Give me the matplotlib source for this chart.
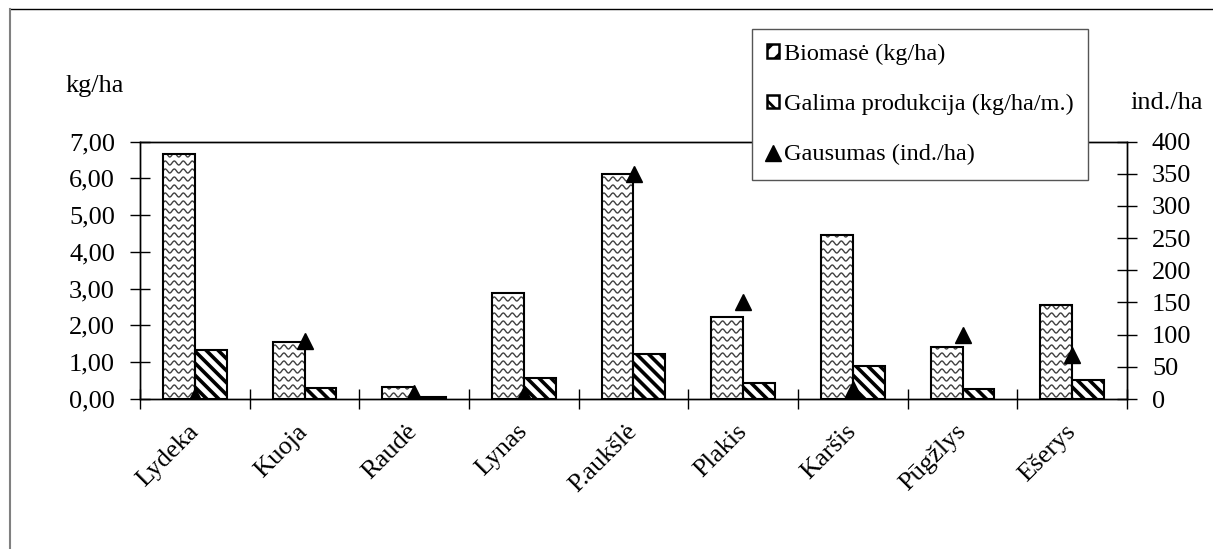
import numpy as np
import matplotlib
matplotlib.use('Agg')
import matplotlib.pyplot as plt
from matplotlib.lines import Line2D
from matplotlib.patches import Patch
from matplotlib.ticker import FuncFormatter, MultipleLocator

plt.rcParams['font.family'] = ['Liberation Serif', 'DejaVu Serif']
plt.rcParams['hatch.linewidth'] = 2.0

species = ['Lydeka', 'Kuoja', 'Raudė', 'Lynas', 'P.aukšlė',
           'Plakis', 'Karšis', 'Pūgžlys', 'Ešerys']
biomass = [6.65, 1.55, 0.32, 2.87, 6.11, 2.23, 4.47, 1.41, 2.55]
production = [1.33, 0.31, 0.05, 0.58, 1.22, 0.44, 0.90, 0.28, 0.52]
abundance = [5, 90, 10, 8, 350, 150, 15, 100, 68]

W, H = 1213, 549
FS = 19
fig = plt.figure(figsize=(W / 100, H / 100), dpi=100)
ax = fig.add_axes([140 / W, 1 - 399 / H, (1127 - 140) / W, (399 - 141.5) / H])

x = np.arange(len(species))
bw = 0.29
bio_bars = ax.bar(x - bw / 2, biomass, bw, color='white', edgecolor='none', zorder=2)
prod_bars = ax.bar(x + bw / 2, production, bw, color='white', edgecolor='none', zorder=2)

ax.set_xlim(-0.5, len(species) - 0.5)
ax.set_ylim(0, 7)

# pattern fills, spacing in pixels
px_x = ax.bbox.width / len(species)
px_y = ax.bbox.height / 7

# wavy lines for biomass
step = 8 / px_y
amp = 2 / px_y
period = 9 / px_x
for bar in bio_bars:
    x0, bwid, h = bar.get_x(), bar.get_width(), bar.get_height()
    xs = np.linspace(x0, x0 + bwid, 80)
    xx, yy = [], []
    for y0 in np.arange(step / 2, h + step, step):
        xx.extend(list(xs) + [np.nan])
        yy.extend(list(y0 + amp * np.sin(2 * np.pi * (xs - x0) / period)) + [np.nan])
    ln, = ax.plot(xx, yy, color='#404040', lw=1.0, zorder=2.5)
    ln.set_clip_path(bar)

# thick diagonal stripes for production
for bar in prod_bars:
    x0, bwid, h = bar.get_x(), bar.get_width(), bar.get_height()
    wpx, hpx = bwid * px_x, h * px_y
    xx, yy = [], []
    for c in np.arange(0, wpx + hpx + 12, 12):
        xp = np.array([-5, wpx + 5])
        yp = c - xp
        xx.extend(list(x0 + xp / px_x) + [np.nan])
        yy.extend(list(yp / px_y) + [np.nan])
    ln, = ax.plot(xx, yy, color='black', lw=2.6, zorder=2.5, solid_capstyle='butt')
    ln.set_clip_path(bar)

# outlines on top
ax.bar(x - bw / 2, biomass, bw, fill=False, edgecolor='black', linewidth=1.5, zorder=3)
ax.bar(x + bw / 2, production, bw, fill=False, edgecolor='black', linewidth=1.5, zorder=3)

ax.yaxis.set_major_locator(MultipleLocator(1))
ax.yaxis.set_major_formatter(FuncFormatter(lambda v, p: f'{v:.2f}'.replace('.', ',')))
ax.tick_params(axis='y', direction='inout', length=14, width=1, labelsize=FS, pad=11)

ax.set_xticks(x, species)
ax.set_xticks(np.arange(-0.5, len(species)), minor=True)
ax.tick_params(axis='x', which='major', length=0, labelsize=FS, pad=21)
ax.tick_params(axis='x', which='minor', direction='inout', length=14, width=1)
for lbl in ax.get_xticklabels():
    lbl.set_rotation(45)
    lbl.set_ha('right')
    lbl.set_va('center')
    lbl.set_rotation_mode('anchor')

for s in ax.spines.values():
    s.set_linewidth(1)

ax2 = ax.twinx()
ax2.plot(x, abundance, linestyle='none', marker='^', color='black',
         markersize=11, zorder=4)
ax2.set_ylim(0, 400)
ax2.yaxis.set_major_locator(MultipleLocator(50))
ax2.tick_params(axis='y', direction='inout', length=14, width=1, labelsize=FS, pad=11)
for s in ax2.spines.values():
    s.set_linewidth(1)

fig.text(66 / W, 1 - 86 / H, 'kg/ha', fontsize=FS, ha='left', va='center')
fig.text(1130 / W, 1 - 103 / H, 'ind./ha', fontsize=FS, ha='left', va='center')

handles = [
    Patch(facecolor='white', edgecolor='black', hatch='//', linewidth=1.8),
    Patch(facecolor='white', edgecolor='black', hatch='\\\\', linewidth=1.8),
    Line2D([], [], linestyle='none', marker='^', color='black', markersize=11),
]
labels = ['Biomasė (kg/ha)', 'Galima produkcija (kg/ha/m.)', 'Gausumas (ind./ha)']
leg = ax2.legend(handles, labels, loc='upper left',
                 bbox_to_anchor=(752 / W, 1 - 29 / H), bbox_transform=fig.transFigure,
                 borderaxespad=0, fancybox=False, framealpha=1, edgecolor='#555555',
                 fontsize=17.5, handlelength=0.5, handleheight=0.5,
                 handletextpad=0.2, labelspacing=1.2, borderpad=0.6)
leg.get_frame().set_linewidth(1.0)

# outer chart border (top and left visible)
fig.add_artist(Line2D([10 / W, 1], [1 - 9 / H, 1 - 9 / H], transform=fig.transFigure,
                      color='black', lw=1))
fig.add_artist(Line2D([10 / W, 10 / W], [0, 1 - 9 / H], transform=fig.transFigure,
                      color='#808080', lw=1.5))

fig.savefig('out.png', dpi=100)
